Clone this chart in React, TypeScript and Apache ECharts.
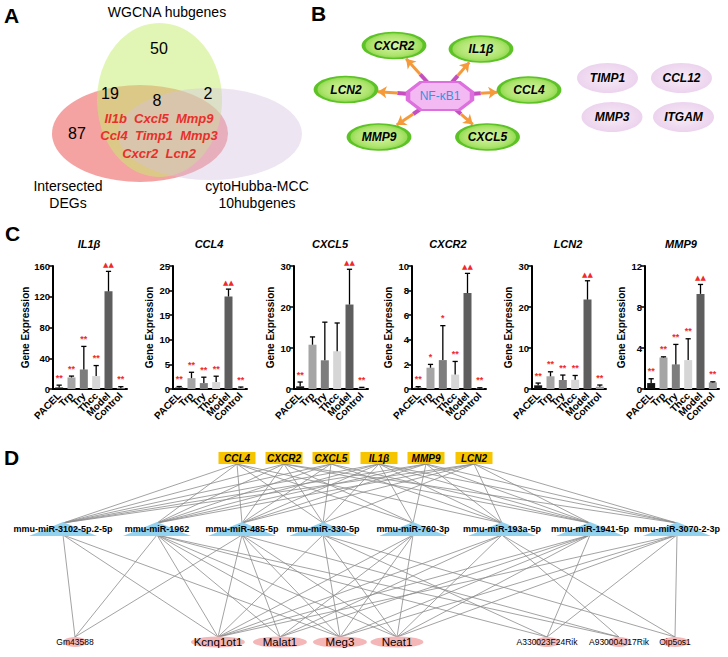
import React, { useEffect, useRef } from "react";
import * as echarts from "echarts";

const FONT = "'Liberation Sans', Arial, Helvetica, sans-serif";

// ---------------- Panel A (Venn) ----------------
const vennSetNames = ["Intersected\nDEGs", "WGCNA hubgenes", "cytoHubba-MCC\n10hubgenes"];
// red only, green only, green∩purple, red∩green, all three
const vennCounts = [87, 50, 2, 19, 8];
const sharedGenesRows = ["Il1b  Cxcl5  Mmp9", "Ccl4  Timp1  Mmp3", "Cxcr2  Lcn2"];

// ---------------- Panel B (network) ----------------
const hubName = "NF-κB1";
const targetGenes = ["CXCR2", "IL1β", "LCN2", "CCL4", "MMP9", "CXCL5"];
const otherGenes = ["TIMP1", "CCL12", "MMP3", "ITGAM"];

// ---------------- Panel C (bar charts) ----------------
const groups = ["PACEL", "Trp", "Try", "Thcc", "Model", "Control"];
const geneNames = ["IL1β", "CCL4", "CXCL5", "CXCR2", "LCN2", "MMP9"];
const il1bMean = [2, 15, 25.4, 16.8, 127, 1];
const il1bErr = [3, 1.8, 30, 13.7, 26, 2];
const il1bSig = ["**", "**", "**", "**", "▲▲", "**"];
const ccl4Mean = [0.3, 2.2, 1.2, 1.4, 18.8, 0.2];
const ccl4Err = [0.2, 1.2, 1.2, 1.2, 1.5, 0.2];
const ccl4Sig = ["**", "**", "**", "**", "▲▲", "**"];
const cxcl5Mean = [0.65, 10.8, 7.0, 9.2, 20.6, 0.3];
const cxcl5Err = [1.05, 1.9, 9.3, 6.9, 8.6, 0.1];
const cxcl5Sig = ["**", "", "", "", "▲▲", "**"];
const cxcr2Mean = [0.1, 1.73, 2.35, 1.17, 7.8, 0.05];
const cxcr2Err = [0.09, 0.27, 2.8, 1.07, 1.6, 0.05];
const cxcr2Sig = ["**", "*", "*", "**", "▲▲", "**"];
const lcn2Mean = [0.9, 3.1, 2.2, 2.25, 21.8, 0.56];
const lcn2Err = [0.55, 1.1, 1.2, 1.05, 4.6, 0.41];
const lcn2Sig = ["**", "**", "**", "**", "▲▲", "**"];
const mmp9Mean = [0.58, 3.07, 2.4, 2.82, 9.28, 0.64];
const mmp9Err = [0.42, 0.07, 1.95, 2.08, 0.92, 0.06];
const mmp9Sig = ["**", "**", "**", "**", "▲▲", "**"];
const yMaxes = [160, 25, 30, 10, 30, 12];
const yIntervals = [40, 5, 10, 2, 10, 4];

// ---------------- Panel D (ceRNA network) ----------------
const mRNAs = ["CCL4", "CXCR2", "CXCL5", "IL1β", "MMP9", "LCN2"];
const miRNAs = [
  "mmu-miR-3102-5p.2-5p",
  "mmu-miR-1962",
  "mmu-miR-485-5p",
  "mmu-miR-330-5p",
  "mmu-miR-760-3p",
  "mmu-miR-193a-5p",
  "mmu-miR-1941-5p",
  "mmu-miR-3070-2-3p",
];
const lncRNAs = ["Gm43588", "Kcnq1ot1", "Malat1", "Meg3", "Neat1", "A330023F24Rik", "A930004J17Rik", "Oip5os1"];
// [mRNA index, miRNA index]
const mrnaMirEdges = [
  [0, 0], [0, 1], [0, 2], [0, 3], [0, 4], [0, 5],
  [1, 0], [1, 1], [1, 2], [1, 3], [1, 4], [1, 6], [1, 7],
  [2, 0], [2, 1], [2, 2], [2, 3], [2, 5], [2, 6],
  [3, 0], [3, 1], [3, 2], [3, 3], [3, 4], [3, 5], [3, 6], [3, 7],
  [4, 0], [4, 1], [4, 2], [4, 4], [4, 5], [4, 6], [4, 7],
  [5, 0], [5, 1], [5, 2], [5, 3], [5, 5], [5, 6], [5, 7],
];
// [miRNA index, lncRNA index]
const mirLncEdges = [
  [0, 0], [0, 1], [0, 3],
  [1, 0], [1, 1], [1, 2], [1, 3], [1, 4], [1, 5], [1, 6],
  [2, 0], [2, 1], [2, 2], [2, 3], [2, 4], [2, 6],
  [3, 1], [3, 3], [3, 4], [3, 5], [3, 7],
  [4, 1], [4, 2], [4, 3], [4, 4],
  [5, 1], [5, 2], [5, 4], [5, 6], [5, 7],
  [6, 1], [6, 2], [6, 3], [6, 4], [6, 5],
  [7, 1], [7, 3], [7, 4], [7, 5], [7, 7],
];

// ---------------- Layout (diagram positions, px) ----------------
const vennEllipses = [
  { c: [140, 133.5], s: [176, 97], color: "rgba(238,116,116,0.67)" },
  { c: [159.5, 100], s: [125, 154], color: "rgba(198,238,112,0.52)" },
  { c: [210, 134], s: [184, 92], color: "rgba(212,192,224,0.42)" },
];
const vennCountPos = [[77, 133], [159, 48], [208, 93], [110, 93], [157, 100]];
const vennSetPos = [[68, 194], [167, 12], [257, 194]];
const bHubPos = [440, 96];
const bTargetPos = [[394, 45.5], [481, 49], [346, 89.5], [529, 90], [379, 137], [487.5, 137]];
const bOtherPos = [[607.5, 78], [681.5, 78], [612, 117], [683.5, 117]];
const gridLefts = [53, 173, 294, 412, 532, 645];
const dGeneX = [237, 284, 331, 379, 426, 474];
const dGeneY = 458;
const dMirX = [63, 157, 242, 323, 413, 502, 590, 677];
const dMirY = 529;
const dLncX = [75, 218, 280, 340, 397, 547, 619, 675];
const dLncY = 642;
const dLncSize = [[24, 10], [54, 11], [54, 11], [54, 11], [53, 11], [26, 10], [24, 10], [28, 10]];
const dLncFont = [8.5, 11.5, 11.5, 11.5, 11.5, 8.5, 8.5, 8.5];

function txt(text, x, y, o = {}) {
  return {
    type: "text",
    x,
    y,
    silent: true,
    z: 50,
    style: {
      text,
      fontFamily: FONT,
      fontSize: 12,
      fill: "#000",
      textAlign: "center",
      textVerticalAlign: "middle",
      align: "center",
      verticalAlign: "middle",
      ...o,
    },
  };
}

function nodeLabel(o) {
  return {
    show: true,
    position: "inside",
    formatter: "{b}",
    color: "#000",
    opacity: 1,
    textBorderWidth: 0,
    textBorderColor: "transparent",
    textShadowBlur: 0,
    fontFamily: FONT,
    ...o,
  };
}

function buildOption() {
  const grid = [{ left: 0, top: 0, width: 728, height: 657 }];
  const xAxis = [{ gridIndex: 0, type: "value", min: 0, max: 728, show: false }];
  const yAxis = [{ gridIndex: 0, type: "value", min: 0, max: 657, inverse: true, show: false }];
  const series = [];
  const graphic = [];

  // Panel letters
  graphic.push(txt("A", 4, 15, { fontSize: 21, fontWeight: "bold", textAlign: "left", align: "left" }));
  graphic.push(txt("B", 311, 13, { fontSize: 21, fontWeight: "bold", textAlign: "left", align: "left" }));
  graphic.push(txt("C", 5, 233, { fontSize: 21, fontWeight: "bold", textAlign: "left", align: "left" }));
  graphic.push(txt("D", 4, 457, { fontSize: 21, fontWeight: "bold", textAlign: "left", align: "left" }));

  // ---------- Venn ----------
  series.push({
    type: "scatter",
    xAxisIndex: 0,
    yAxisIndex: 0,
    silent: true,
    z: 1,
    itemStyle: { opacity: 1 },
    data: vennEllipses.map((e, i) => ({
      name: vennSetNames[i],
      value: e.c,
      symbolSize: e.s,
      itemStyle: { color: e.color, opacity: 1 },
    })),
  });
  vennCounts.forEach((c, i) => {
    graphic.push(txt(String(c), vennCountPos[i][0], vennCountPos[i][1], { fontSize: 16 }));
  });
  vennSetNames.forEach((n, i) => {
    graphic.push(txt(n, vennSetPos[i][0], vennSetPos[i][1], { fontSize: 14, lineHeight: 17 }));
  });
  sharedGenesRows.forEach((r, i) => {
    graphic.push(
      txt(r, 159, 118 + i * 17.5, { fontSize: 13, fontWeight: "bold", fontStyle: "italic", fill: "#e8302a" })
    );
  });

  // ---------- Panel B ----------
  const mag = [];
  const org = [];
  bTargetPos.forEach((t) => {
    const dx = t[0] - bHubPos[0];
    const dy = t[1] - bHubPos[1];
    const len = Math.sqrt(dx * dx + dy * dy);
    const ux = dx / len;
    const uy = dy / len;
    const rO = 1 / Math.sqrt((ux / 32) ** 2 + (uy / 14) ** 2);
    const rT = 1 / Math.sqrt((ux / 31) ** 2 + (uy / 13.5) ** 2);
    const s = [bHubPos[0] + ux * (rO - 1), bHubPos[1] + uy * (rO - 1)];
    const e = [t[0] - ux * (rT + 1), t[1] - uy * (rT + 1)];
    const m = [s[0] + (e[0] - s[0]) * 0.38, s[1] + (e[1] - s[1]) * 0.38];
    mag.push({ coords: [s, m] });
    org.push({ coords: [m, e] });
  });
  series.push({
    type: "lines",
    coordinateSystem: "cartesian2d",
    xAxisIndex: 0,
    yAxisIndex: 0,
    silent: true,
    z: 3,
    lineStyle: { color: "#c64fc0", width: 4, opacity: 1 },
    data: mag,
  });
  series.push({
    type: "lines",
    coordinateSystem: "cartesian2d",
    xAxisIndex: 0,
    yAxisIndex: 0,
    silent: true,
    z: 3,
    symbol: ["none", "arrow"],
    symbolSize: 9,
    lineStyle: { color: "#f59a3a", width: 3, opacity: 1 },
    data: org,
  });
  const geneLbl = nodeLabel({ fontSize: 12, fontWeight: "bold", fontStyle: "italic" });
  series.push({
    type: "scatter",
    xAxisIndex: 0,
    yAxisIndex: 0,
    silent: true,
    z: 4,
    itemStyle: { opacity: 1 },
    data: [
      {
        name: hubName,
        value: bHubPos,
        symbol: "path://M20,0 L80,0 L100,35 L100,65 L80,100 L20,100 L0,65 L0,35 Z",
        symbolSize: [64, 28],
        itemStyle: { color: "#f3b9f3", borderColor: "#de6fde", borderWidth: 3, opacity: 1 },
        label: nodeLabel({ color: "#3592dc", fontSize: 12 }),
      },
      ...targetGenes.map((g, i) => ({
        name: g,
        value: bTargetPos[i],
        symbol: "circle",
        symbolSize: [61, 26],
        itemStyle: {
          opacity: 1,
          color: {
            type: "radial",
            x: 0.5,
            y: 0.5,
            r: 0.5,
            colorStops: [
              { offset: 0, color: "#d6f6a6" },
              { offset: 0.75, color: "#aee46e" },
              { offset: 1, color: "#8ad84a" },
            ],
          },
          borderColor: "#5cc226",
          borderWidth: 2.5,
        },
        label: geneLbl,
      })),
      ...otherGenes.map((g, i) => ({
        name: g,
        value: bOtherPos[i],
        symbol: "circle",
        symbolSize: [61, 30],
        itemStyle: {
          opacity: 1,
          color: {
            type: "radial",
            x: 0.5,
            y: 0.5,
            r: 0.5,
            colorStops: [
              { offset: 0, color: "#f7ecf7" },
              { offset: 1, color: "#ecd3ee" },
            ],
          },
        },
        label: geneLbl,
      })),
    ],
  });

  // ---------- Panel C ----------
  const means = [il1bMean, ccl4Mean, cxcl5Mean, cxcr2Mean, lcn2Mean, mmp9Mean];
  const errs = [il1bErr, ccl4Err, cxcl5Err, cxcr2Err, lcn2Err, mmp9Err];
  const sigs = [il1bSig, ccl4Sig, cxcl5Sig, cxcr2Sig, lcn2Sig, mmp9Sig];
  const barColors = ["#151515", "#a5a5a5", "#7d7d7d", "#d6d6d6", "#5e5e5e", "#9a9a9a"];
  for (let k = 0; k < 6; k++) {
    const gi = k + 1;
    grid.push({ left: gridLefts[k], top: 266, width: 74, height: 123 });
    xAxis.push({
      gridIndex: gi,
      type: "category",
      data: groups,
      axisLine: { lineStyle: { color: "#000", width: 2 } },
      axisTick: { alignWithLabel: true, length: 4, lineStyle: { color: "#000", width: 1.5 } },
      axisLabel: {
        rotate: 45,
        interval: 0,
        fontSize: 10,
        fontWeight: "bold",
        color: "#000",
        fontFamily: FONT,
        margin: 5,
      },
    });
    yAxis.push({
      gridIndex: gi,
      type: "value",
      min: 0,
      max: yMaxes[k],
      interval: yIntervals[k],
      name: "Gene Expression",
      nameLocation: "middle",
      nameGap: 19,
      nameTextStyle: { fontSize: 10, fontWeight: "bold", color: "#000", fontFamily: FONT },
      axisLine: { show: true, lineStyle: { color: "#000", width: 2 } },
      axisTick: { show: true, length: 4, lineStyle: { color: "#000", width: 1.5 } },
      axisLabel: { fontSize: 9.5, fontWeight: "bold", color: "#000", fontFamily: FONT, margin: 3 },
      splitLine: { show: false },
    });
    series.push({
      type: "bar",
      xAxisIndex: gi,
      yAxisIndex: gi,
      barWidth: 8,
      silent: true,
      z: 2,
      data: means[k].map((v, i) => ({ value: v, itemStyle: { color: barColors[i] } })),
    });
    const sg = sigs[k];
    series.push({
      type: "custom",
      xAxisIndex: gi,
      yAxisIndex: gi,
      silent: true,
      clip: false,
      z: 3,
      data: means[k].map((v, i) => [i, v, errs[k][i]]),
      renderItem: (params, api) => {
        const i = api.value(0);
        const m = api.value(1);
        const e = api.value(2);
        const b = api.coord([i, m]);
        const t = api.coord([i, m + e]);
        const children = [
          { type: "line", shape: { x1: b[0], y1: b[1], x2: t[0], y2: t[1] }, style: { stroke: "#000", lineWidth: 1.3 } },
          { type: "line", shape: { x1: t[0] - 2.6, y1: t[1], x2: t[0] + 2.6, y2: t[1] }, style: { stroke: "#000", lineWidth: 1.3 } },
        ];
        const s = sg[params.dataIndex];
        if (s) {
          const tri = s.indexOf("▲") >= 0;
          children.push({
            type: "text",
            style: {
              text: s,
              x: t[0],
              y: tri ? t[1] - 6 : t[1] - 12,
              textAlign: "center",
              align: "center",
              textVerticalAlign: tri ? "middle" : "top",
              verticalAlign: tri ? "middle" : "top",
              fill: "#f02a2a",
              fontSize: tri ? 7 : 9,
              fontWeight: "bold",
              fontFamily: tri ? "'DejaVu Sans', sans-serif" : FONT,
            },
          });
        }
        return { type: "group", children };
      },
    });
    graphic.push(
      txt(geneNames[k], gridLefts[k] + 36, 244, { fontSize: 11, fontWeight: "bold", fontStyle: "italic" })
    );
  }

  // ---------- Panel D ----------
  series.push({
    type: "lines",
    coordinateSystem: "cartesian2d",
    xAxisIndex: 0,
    yAxisIndex: 0,
    silent: true,
    z: 2,
    lineStyle: { color: "#8c8c8c", width: 0.8, opacity: 1 },
    data: [
      ...mrnaMirEdges.map(([g, m]) => ({ coords: [[dGeneX[g], dGeneY + 6], [dMirX[m], dMirY - 6]] })),
      ...mirLncEdges.map(([m, l]) => ({ coords: [[dMirX[m], dMirY + 6], [dLncX[l], dLncY - 5]] })),
    ],
  });
  series.push({
    type: "scatter",
    xAxisIndex: 0,
    yAxisIndex: 0,
    silent: true,
    z: 4,
    itemStyle: { opacity: 1 },
    data: [
      ...mRNAs.map((g, i) => ({
        name: g,
        value: [dGeneX[i], dGeneY],
        symbol: "rect",
        symbolSize: [37, 12],
        itemStyle: { color: "#f7c400", opacity: 1 },
        label: nodeLabel({ fontSize: 10, fontWeight: "bold", fontStyle: "italic" }),
      })),
      ...miRNAs.map((m, i) => ({
        name: m,
        value: [dMirX[i], dMirY],
        symbol: "triangle",
        symbolSize: [68, 14],
        itemStyle: { color: "#93d2ef", opacity: 1 },
        label: nodeLabel({ fontSize: 9, fontWeight: "bold" }),
      })),
      ...lncRNAs.map((l, i) => ({
        name: l,
        value: [dLncX[i], dLncY],
        symbol: "circle",
        symbolSize: dLncSize[i],
        itemStyle: { color: "#f4b6b6", opacity: 1 },
        label: nodeLabel({ fontSize: dLncFont[i] }),
      })),
    ],
  });

  return { animation: false, backgroundColor: "#fff", grid, xAxis, yAxis, series, graphic };
}

export default function App() {
  const ref = useRef(null);
  useEffect(() => {
    const chart = echarts.init(ref.current, null, { renderer: "svg" });
    chart.setOption(buildOption());
    return () => chart.dispose();
  }, []);
  return (
    <div
      ref={ref}
      style={{ position: "fixed", left: 0, top: 0, width: 728, height: 657, background: "#fff" }}
    />
  );
}
